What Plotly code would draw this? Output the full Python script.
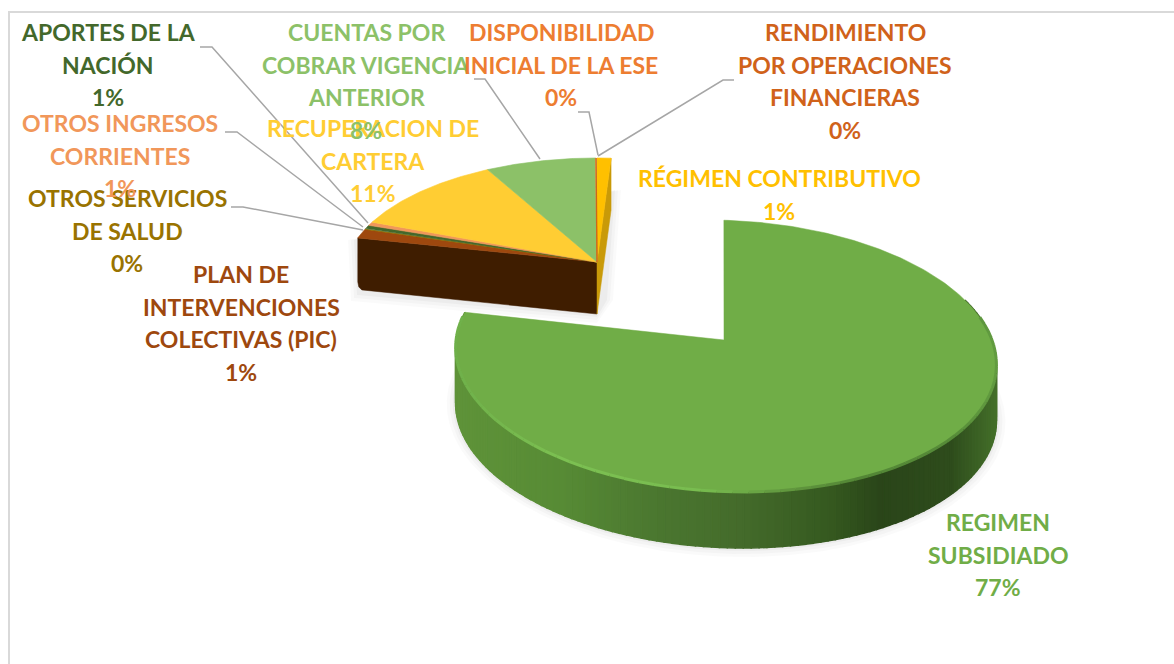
import math
import plotly.graph_objects as go

# ---- data (percent shares; clockwise from north) ----
categories = ["RÉGIMEN CONTRIBUTIVO", "REGIMEN SUBSIDIADO", "PLAN DE INTERVENCIONES COLECTIVAS (PIC)",
              "OTROS SERVICIOS DE SALUD", "APORTES DE LA NACIÓN", "OTROS INGRESOS CORRIENTES",
              "RECUPERACION DE CARTERA", "CUENTAS POR COBRAR VIGENCIA ANTERIOR",
              "DISPONIBILIDAD INICIAL DE LA ESE", "RENDIMIENTO POR OPERACIONES FINANCIERAS"]
values = [1.0, 77.4, 1.3, 0.1, 0.5, 0.5, 11.2, 7.9, 0.05, 0.05]
colors = ["#FFC000", "#70AD47", "#9E480E", "#997300", "#43682B", "#F1975A",
          "#FFCD33", "#8CC168", "#ED7D31", "#C55A11"]
exploded = "REGIMEN SUBSIDIADO"
label_percent = ["1%", "77%", "1%", "0%", "1%", "1%", "11%", "8%", "0%", "0%"]

# ---- label layout ----
label_lines = {
    "APORTES DE LA NACIÓN": (["APORTES DE LA", "NACIÓN"], 108, 32, "#43682B"),
    "OTROS INGRESOS CORRIENTES": (["OTROS INGRESOS", "CORRIENTES"], 120, 123, "#F1975A"),
    "OTROS SERVICIOS DE SALUD": (["OTROS SERVICIOS", "DE SALUD"], 127, 198, "#997300"),
    "PLAN DE INTERVENCIONES COLECTIVAS (PIC)": (["PLAN DE", "INTERVENCIONES", "COLECTIVAS (PIC)"], 241, 274, "#9E480E"),
    "CUENTAS POR COBRAR VIGENCIA ANTERIOR": (["CUENTAS POR", "COBRAR VIGENCIA", "ANTERIOR"], 366, 32, "#8CC168"),
    "RECUPERACION DE CARTERA": (["RECUPERACION DE", "CARTERA"], 373, 128, "#FFCD33"),
    "DISPONIBILIDAD INICIAL DE LA ESE": (["DISPONIBILIDAD", "INICIAL DE LA ESE"], 561, 32, "#ED7D31"),
    "RENDIMIENTO POR OPERACIONES FINANCIERAS": (["RENDIMIENTO", "POR OPERACIONES", "FINANCIERAS"], 845, 32, "#D0621A"),
    "RÉGIMEN CONTRIBUTIVO": (["RÉGIMEN CONTRIBUTIVO"], 779, 178, "#FFC000"),
    "REGIMEN SUBSIDIADO": (["REGIMEN", "SUBSIDIADO"], 998, 522, "#70AD47"),
}
leaders = [
    ([200, 212, 368], [47, 47, 223]),
    ([225, 237, 363], [132, 132, 227]),
    ([231, 243, 363], [207, 207, 230]),
    ([474, 485, 540], [79, 79, 159]),
    ([578, 589, 598], [112, 112, 155]),
    ([734, 723, 598], [80, 80, 156]),
]
LINE_H = 32.7
FONT = "Lato"
FONT_SIZE = 23

# projection of each pie group
BIG = dict(ax=724, ay=340, rx=268, ry=134.1, k=0.1176, s=-17, depth=56)
SMALL = dict(ax=597, ay=262, rx=251, ry=116.5, k=0.12, s=0, depth=52)


def project(g, deg):
    t = math.radians(deg)
    u, v = math.sin(t), math.cos(t)
    w = 1 + g["k"] * v
    return g["ax"] + (g["rx"] * u + g["s"] * v) / w, g["ay"] - g["ry"] * v / w


def arc(g, a, b, step=1.0):
    n = max(2, int(abs(b - a) / step) + 1)
    pts = [project(g, a + (b - a) * i / (n - 1)) for i in range(n)]
    return [p[0] for p in pts], [p[1] for p in pts]


def mix(stops, x):
    if x <= stops[0][0]:
        return stops[0][1]
    for (x0, c0), (x1, c1) in zip(stops, stops[1:]):
        if x <= x1:
            f = (x - x0) / (x1 - x0)
            ca = [int(c0[i:i + 2], 16) for i in (1, 3, 5)]
            cb = [int(c1[i:i + 2], 16) for i in (1, 3, 5)]
            return "#%02x%02x%02x" % tuple(round(p + (q - p) * f) for p, q in zip(ca, cb))
    return stops[-1][1]


side_stops = [(453, "#5f9339"), (560, "#578b35"), (650, "#4b7830"), (740, "#446b2b"),
              (830, "#35591f"), (880, "#2a4519"), (950, "#2e4c1c"), (996, "#44702a")]
rim_stops = [(453, "#6fb04a"), (560, "#7cc052"), (700, "#79bd50"), (780, "#62993f"),
             (860, "#538636"), (950, "#568b38"), (996, "#629c40")]

fig = go.Figure()


def poly(xs, ys, color, line=0.0, opacity=1.0):
    fig.add_trace(go.Scatter(x=xs, y=ys, mode="lines", fill="toself", fillcolor=color,
                             line=dict(color=color, width=line), opacity=opacity,
                             hoverinfo="skip", showlegend=False))


def stroke(xs, ys, color, width):
    fig.add_trace(go.Scatter(x=xs, y=ys, mode="lines", line=dict(color=color, width=width),
                             hoverinfo="skip", showlegend=False))


# angular spans from the values
spans = {}
cum = 0.0
for name, val in zip(categories, values):
    spans[name] = (cum * 3.6, (cum + val) * 3.6)
    cum += val
col = dict(zip(categories, colors))
a_big, b_big = spans[exploded]

# page frame
stroke([9, 9, 1174], [664, 12, 12], "#D9D9D9", 2)

# soft shadows
for grow, op in ((9, 0.02), (6, 0.025), (3, 0.03)):
    xs, ys = arc(BIG, 60, 290)
    xs2 = [x + (x - BIG["ax"]) / 272 * grow for x in xs]
    ys2 = [y + BIG["depth"] + (y - 340) / 150 * grow for y in ys]
    poly(xs2, ys2, "#000000", opacity=op)
    poly([357 - grow, 612 + grow, 604 + grow, 597, 360 - grow],
         [240, 190, 300, 314 + grow, 292 + grow], "#000000", opacity=op)

# ---- small group ----
a_pic = spans["PLAN DE INTERVENCIONES COLECTIVAS (PIC)"][0]
px, py = project(SMALL, a_pic)
d = SMALL["depth"]
ax, ay = SMALL["ax"], SMALL["ay"]
poly([ax, px, px, px + 1, px + 4, ax, ax],
     [ay, py, py + d - 8, py + d - 3, py + d, ay + d, ay], "#3F1D00", line=0.5)
cx, cy = project(SMALL, spans["RÉGIMEN CONTRIBUTIVO"][1])
poly([ax, cx, cx, ax, ax], [ay, cy, cy + d, ay + d, ay], "#C99A08", line=0.5)
for name in categories:
    if name == exploded:
        continue
    a, b = spans[name]
    xs, ys = arc(SMALL, a, b, 0.5)
    poly([ax] + xs + [ax], [ay] + ys + [ay], col[name], line=0.6)

# ---- exploded slice: side with horizontal gradient, then top, then bevel ----
D = BIG["depth"]
vis_a, vis_b = 72, b_big
step = 1.5
ang = vis_a
while ang < vis_b:
    nxt = min(ang + step, vis_b)
    x0, y0 = project(BIG, ang)
    x1, y1 = project(BIG, nxt)
    poly([x0, x1, x1, x0, x0], [y0, y1, y1 + D, y0 + D, y0], mix(side_stops, (x0 + x1) / 2), line=1.5)
    ang = nxt
xs, ys = arc(BIG, a_big, b_big, 1.0)
poly([BIG["ax"]] + xs + [BIG["ax"]], [BIG["ay"]] + ys + [BIG["ay"]], col[exploded], line=0.5)
ang = 80
while ang < b_big - 2:
    nxt = min(ang + 3.0, b_big - 2)
    x0, y0 = project(BIG, ang)
    x1, y1 = project(BIG, nxt)
    stroke([x0, x1], [y0, y1], mix(rim_stops, (x0 + x1) / 2), 3)
    ang = nxt

# leaders
for lx, ly in leaders:
    stroke(lx, ly, "#A6A6A6", 1.5)

# labels
for name, pct in zip(categories, label_percent):
    lines, xc, y0, color = label_lines[name]
    for i, text in enumerate(lines + [pct]):
        fig.add_annotation(x=xc, y=y0 + i * LINE_H, text=text, showarrow=False,
                           xanchor="center", yanchor="middle",
                           font=dict(family=FONT, size=FONT_SIZE, color=color, weight="bold"))

fig.update_layout(width=1174, height=664, margin=dict(l=0, r=0, t=0, b=0),
                  paper_bgcolor="#FFFFFF", plot_bgcolor="#FFFFFF", showlegend=False,
                  xaxis=dict(visible=False, range=[0, 1174], fixedrange=True),
                  yaxis=dict(visible=False, range=[664, 0], fixedrange=True))

fig.write_html("out.html", config=dict(displayModeBar=False),
               post_script="document.body.style.margin='0';document.documentElement.style.overflow='hidden';")
